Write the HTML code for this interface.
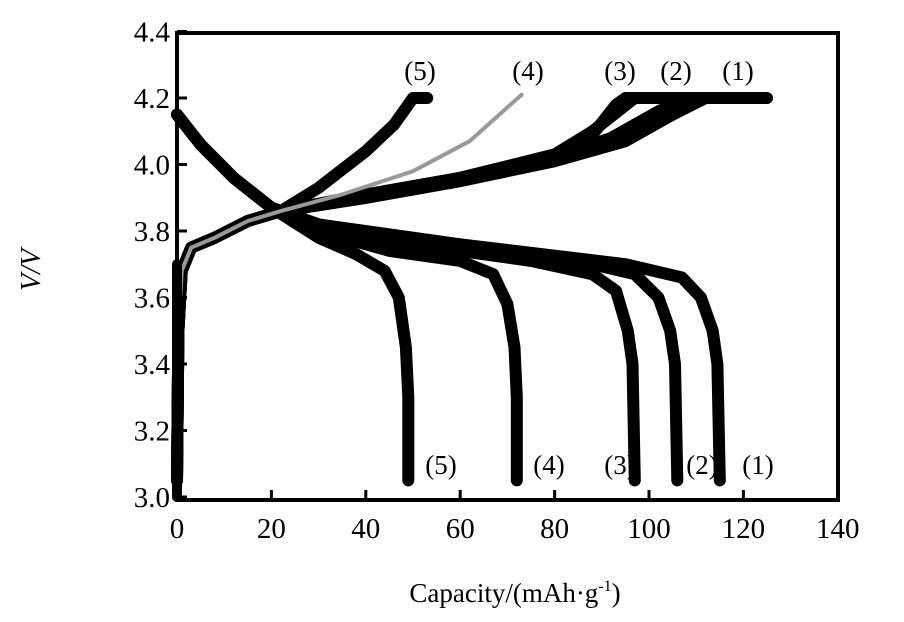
<!DOCTYPE html><html><head><meta charset="utf-8"><style>
body{margin:0;background:#fff;width:904px;height:617px;overflow:hidden}
text{font-family:"Liberation Serif",serif;fill:#000}
</style></head><body>
<svg id="s" width="904" height="617" xmlns="http://www.w3.org/2000/svg">
<g id="curves" fill="none" stroke-linejoin="round" stroke-linecap="round"></g>
<rect x="177" y="33" width="661" height="467" fill="none" stroke="#000" stroke-width="4"/>
<g id="ticks" stroke="#000" stroke-width="3"></g>
<g font-size="29" text-anchor="end" id="yl"></g>
<g font-size="29" text-anchor="middle" id="xl"></g>
<g font-size="27" text-anchor="middle">
<text x="420" y="80">(5)</text><text x="528" y="80">(4)</text><text x="620" y="80">(3)</text><text x="676" y="80">(2)</text><text x="738" y="80">(1)</text>
<text x="441" y="474">(5)</text><text x="549" y="474">(4)</text><text x="620" y="474">(3)</text><text x="702" y="474">(2)</text><text x="758" y="474">(1)</text>
</g>
<text x="515" y="602" font-size="27" text-anchor="middle">Capacity/(mAh·g<tspan font-size="16" dy="-11">-1</tspan><tspan dy="11">)</tspan></text>
<text transform="translate(40,270) rotate(-90)" font-size="28" font-style="italic" text-anchor="middle">V/V</text>
</svg>
<script>
var X=c=>177+c*4.72,Y=v=>497-(v-3)*332.5;
var g=document.getElementById('curves');
function path(pts,col,w){var d='M'+pts.map(p=>X(p[0]).toFixed(1)+','+Y(p[1]).toFixed(1)).join('L');
var e=document.createElementNS('http://www.w3.org/2000/svg','path');e.setAttribute('d',d);e.setAttribute('stroke',col);e.setAttribute('stroke-width',w);g.appendChild(e);}
var st=[[0,4.15],[5,4.06],[12,3.96],[20,3.87]];
[
[[30,3.78],[38,3.73],[44,3.68],[47,3.6],[48.5,3.45],[49,3.3],[49,3.05]],
[[30,3.8],[45,3.74],[60,3.71],[67,3.67],[70,3.58],[71.5,3.45],[72,3.3],[72,3.05]],
[[30,3.81],[50,3.76],[75,3.71],[88,3.67],[93,3.62],[95.5,3.5],[96.5,3.4],[97,3.05]],
[[30,3.82],[55,3.76],[85,3.71],[97,3.67],[102,3.6],[104.5,3.5],[105.5,3.4],[106,3.05]],
[[30,3.82],[60,3.76],[95,3.7],[107,3.66],[111,3.6],[113.5,3.5],[114.5,3.4],[115,3.05]]
].forEach(p=>path(st.concat(p),'#000',12));
var base=[[0,3.05],[0.3,3.5],[1,3.68],[3,3.75],[8,3.78],[15,3.83],[22,3.86]];
path(base.concat([[30,3.93],[40,4.04],[46,4.12],[50,4.2],[53,4.2]]),'#000',12);
path(base.concat([[40,3.9],[60,3.95],[80,4.01],[95,4.07],[105,4.15],[112,4.2],[125,4.2]]),'#000',12);
path(base.concat([[40,3.9],[60,3.95],[80,4.02],[92,4.08],[102,4.16],[108,4.2],[115,4.2]]),'#000',12);
path(base.concat([[40,3.91],[60,3.96],[80,4.03],[88,4.09],[93,4.18],[95,4.2],[112,4.2]]),'#000',12);
path(base.concat([[40,3.9],[60,3.96],[80,4.03],[88,4.1],[97,4.2],[108,4.2]]),'#000',12);
path(base.concat([[35,3.91],[50,3.98],[62,4.07],[73,4.21]]),'#999',4);
path([[0,3.0],[0,3.7]],'#000',10);
var t=document.getElementById('ticks'),yl=document.getElementById('yl'),xl=document.getElementById('xl'),h='';
for(var i=0;i<=7;i++){var v=3+i*0.2;h+='<line x1="177" x2="187" y1="'+Y(v)+'" y2="'+Y(v)+'"/>';yl.innerHTML+='<text x="170" y="'+(Y(v)+10)+'">'+v.toFixed(1)+'</text>';}
for(var i=0;i<=7;i++){var c=i*20;h+='<line x1="'+X(c)+'" x2="'+X(c)+'" y1="500" y2="490"/>';xl.innerHTML+='<text x="'+X(c)+'" y="538">'+c+'</text>';}
t.innerHTML=h;
</script>
</body></html>
